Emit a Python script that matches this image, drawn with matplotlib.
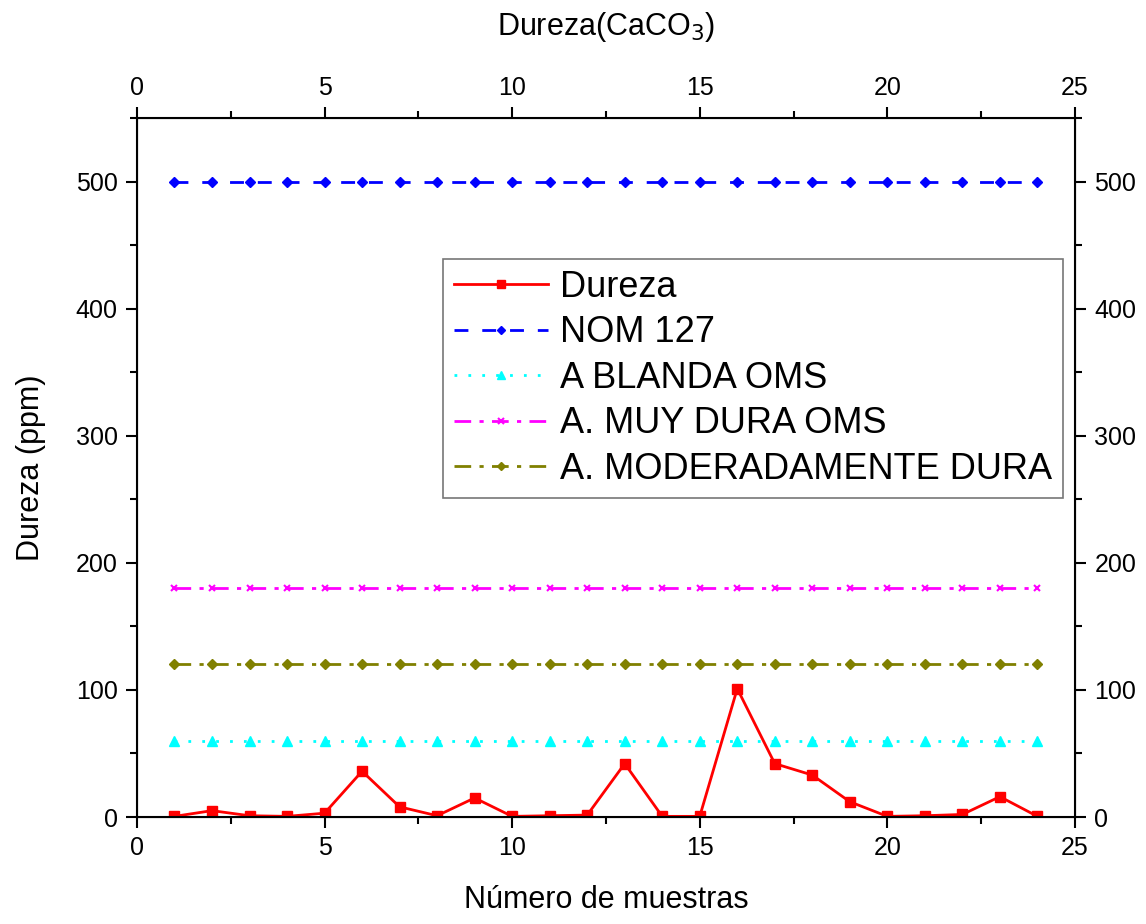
import matplotlib
matplotlib.use("Agg")
import matplotlib.pyplot as plt
from matplotlib.ticker import MultipleLocator

plt.rcParams['font.family'] = ['Liberation Sans', 'DejaVu Sans']

muestras = list(range(1, 25))
dureza = [0.5, 5, 1, 0.5, 3, 36, 8, 1, 15, 0.5, 1, 1.5, 42, 0.5, 0.5, 101,
          42, 33, 12, 0.5, 1, 2, 16, 0.5]
nom127 = [500] * 24
blanda = [60] * 24
muy_dura = [180] * 24
moderada = [120] * 24

fig = plt.figure(figsize=(11.46, 9.24), dpi=100)
ax = fig.add_axes([0.1195, 0.1158, 0.8185, 0.7565])

ax.plot(muestras, dureza, color='red', lw=2, marker='s', ms=7, label='Dureza')
ax.plot(muestras, nom127, color='blue', lw=2, ls=(0, (5, 5)), marker='D', ms=5, label='NOM 127')
ax.plot(muestras, blanda, color='cyan', lw=2, ls=(0, (1, 4)), marker='^', ms=7, label='A BLANDA OMS')
ax.plot(muestras, muy_dura, color='magenta', lw=2, ls=(0, (6, 3, 1.5, 3)), marker='x', ms=5, mew=1.5, label='A. MUY DURA OMS')
ax.plot(muestras, moderada, color='olive', lw=2, ls=(0, (6, 3, 1.5, 3)), marker='D', ms=5, label='A. MODERADAMENTE DURA')

ax.set_xlim(0, 25)
ax.set_ylim(0, 550)
ax.xaxis.set_major_locator(MultipleLocator(5))
ax.xaxis.set_minor_locator(MultipleLocator(2.5))
ax.yaxis.set_major_locator(MultipleLocator(100))
ax.yaxis.set_minor_locator(MultipleLocator(50))
ax.tick_params(axis='both', which='major', labelsize=18, length=8, width=1.5, direction='out', pad=6)
ax.tick_params(axis='both', which='minor', length=5, width=1.5, direction='out')
ax.tick_params(right=True, labelright=True, which='both')
for s in ax.spines.values():
    s.set_linewidth(1.5)

ax.set_xlabel('Número de muestras', fontsize=22)
ax.xaxis.set_label_coords(0.5, -0.097)
ax.set_ylabel('Dureza (ppm)', fontsize=22)
ax.yaxis.set_label_coords(-0.097, 0.5)

top = ax.twiny()
top.set_xlim(0, 25)
top.xaxis.set_major_locator(MultipleLocator(5))
top.xaxis.set_minor_locator(MultipleLocator(2.5))
top.tick_params(which='major', labelsize=18, length=8, width=1.5, direction='out', pad=5)
top.tick_params(which='minor', length=5, width=1.5, direction='out')
top.set_xlabel('Dureza(CaCO$_3$)', fontsize=22)
top.xaxis.set_label_coords(0.5, 1.119)

leg = ax.legend(loc='upper left', bbox_to_anchor=(443/1146, 1 - 259/924), bbox_transform=fig.transFigure,
                fontsize=26, frameon=True, fancybox=False, edgecolor='#555555',
                handlelength=2.6, handletextpad=0.33, labelspacing=0.29, borderpad=0.3,
                borderaxespad=0, markerscale=0.8)
leg.get_frame().set_linewidth(1.2)

fig.savefig('out.png', dpi=100)
